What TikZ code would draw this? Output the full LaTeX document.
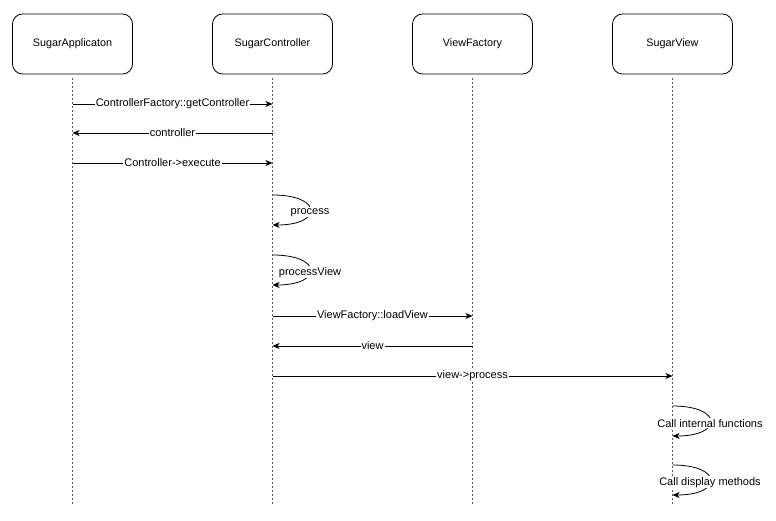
\documentclass[tikz,border=0pt]{standalone}
\usepackage{fontspec}
\setmainfont{Liberation Sans}
\usetikzlibrary{arrows.meta}
\begin{document}
\begin{tikzpicture}[x=1pt,y=-1pt,
  actor/.style={draw=black,line width=0.8pt,rounded corners=10pt,minimum width=120pt,minimum height=60pt,font=\fontsize{10.8}{13}\selectfont,inner sep=0pt},
  life/.style={draw=black!65,line width=0.6pt,dash pattern=on 2pt off 2pt},
  msg/.style={draw=black,line width=0.8pt,-{Stealth[length=7pt,width=6pt,inset=2pt]}},
  lbl/.style={fill=white,inner sep=1pt,font=\fontsize{11}{12}\selectfont},
  slbl/.style={lbl,pos=0.55}]
\useasboundingbox (0,0) rectangle (776,521);
% actors
\node[actor] (A) at (72.5,44) {SugarApplicaton};
\node[actor] (B) at (272.5,44) {SugarController};
\node[actor] (C) at (472.5,44) {ViewFactory};
\node[actor] (D) at (672.5,44) {SugarView};
% lifeline ends
\coordinate (Ab) at (72.5,505);
\coordinate (Bb) at (272.5,505);
\coordinate (Cb) at (472.5,505);
\coordinate (Db) at (672.5,505);
\draw[life] ([yshift=-4pt]A.south) -- (Ab);
\draw[life] ([yshift=-4pt]B.south) -- (Bb);
\draw[life] ([yshift=-4pt]C.south) -- (Cb);
\draw[life] ([yshift=-4pt]D.south) -- (Db);
% message points
\coordinate (a1) at (72.5,104); \coordinate (b1) at (272.5,104);
\coordinate (a2) at (72.5,133); \coordinate (b2) at (272.5,133);
\coordinate (a3) at (72.5,163); \coordinate (b3) at (272.5,163);
\coordinate (b4s) at (272.5,195); \coordinate (b4e) at (272.5,225);
\coordinate (b5s) at (272.5,255); \coordinate (b5e) at (272.5,285);
\coordinate (b6) at (272.5,316); \coordinate (c6) at (472.5,316);
\coordinate (b7) at (272.5,346); \coordinate (c7) at (472.5,346);
\coordinate (b8) at (272.5,376); \coordinate (d8) at (672.5,376);
\coordinate (d9s) at (672.5,406); \coordinate (d9e) at (672.5,436);
\coordinate (d10s) at (672.5,465); \coordinate (d10e) at (672.5,495);
% messages
\draw[msg] (a1) -- node[lbl] {ControllerFactory::getController} (b1);
\draw[msg] (b2) -- node[lbl] {controller} (a2);
\draw[msg] (a3) -- node[lbl] {Controller->execute} (b3);
\draw[msg] (b4s) .. controls (323,195) and (323,225) .. node[slbl] {process} (b4e);
\draw[msg] (b5s) .. controls (323,255) and (323,285) .. node[slbl] {processView} (b5e);
\draw[msg] (b6) -- node[lbl] {ViewFactory::loadView} (c6);
\draw[msg] (c7) -- node[lbl] {view} (b7);
\draw[msg] (b8) -- node[lbl] {view->process} (d8);
\draw[msg] (d9s) .. controls (723,406) and (723,436) .. node[slbl] {Call internal functions} (d9e);
\draw[msg] (d10s) .. controls (723,465) and (723,495) .. node[slbl] {Call display methods} (d10e);
\end{tikzpicture}
\end{document}
